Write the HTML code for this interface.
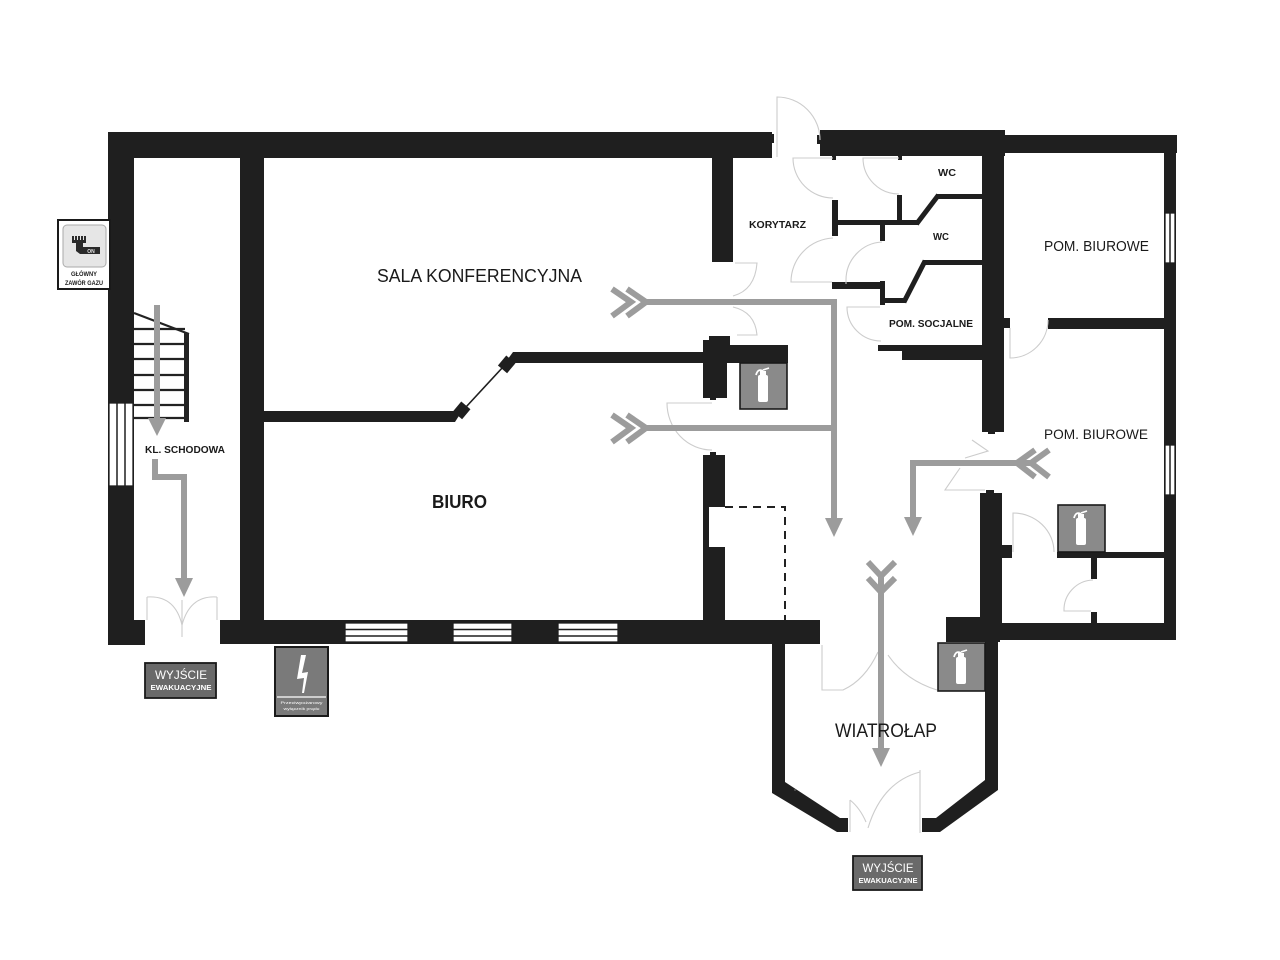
<!DOCTYPE html>
<html>
<head>
<meta charset="utf-8">
<style>
  html,body{margin:0;padding:0;background:#fff;}
  svg{display:block;}
  text{font-family:"Liberation Sans","DejaVu Sans",sans-serif;fill:#1a1a1a;}
</style>
</head>
<body>
<svg width="1280" height="960" viewBox="0 0 1280 960" xmlns="http://www.w3.org/2000/svg">
  <rect x="0" y="0" width="1280" height="960" fill="#ffffff"/>

  <!-- ============ WALLS ============ -->
  <g fill="#1f1f1f">
    <rect x="108" y="132" width="664" height="26"/>
    <rect x="769" y="134" width="5" height="9"/>
    <rect x="108" y="132" width="26" height="513"/>
    <rect x="240" y="132" width="24" height="500"/>
    <rect x="108" y="620" width="37" height="25"/>
    <rect x="220" y="620" width="600" height="24"/>
    <rect x="712" y="132" width="21" height="130"/>
    <rect x="703" y="340" width="24" height="58"/>
    <rect x="709" y="336" width="21" height="10"/>
    <rect x="727" y="345" width="61" height="18"/>
    <rect x="710" y="396" width="6" height="4"/>
    <polygon points="513,352 704,352 704,363 505,363"/>
    <polygon points="263,411 462,411 455,422 263,422"/>
    <rect x="456" y="404" width="12" height="13" transform="rotate(40 462 410)"/>
    <rect x="501" y="358" width="12" height="13" transform="rotate(40 507 364)"/>
    <rect x="703" y="455" width="22" height="52"/>
    <rect x="703" y="507" width="6" height="40"/>
    <rect x="703" y="547" width="22" height="75"/>
    <rect x="710" y="452" width="6" height="4"/>

    <rect x="820" y="130" width="185" height="26"/>
    <rect x="817" y="135" width="5" height="9"/>
    <rect x="1003" y="135" width="174" height="18"/>
    <rect x="1164" y="135" width="12" height="505"/>
    <rect x="982" y="130" width="22" height="302"/>
    <rect x="988" y="430" width="7" height="4"/>
    <rect x="980" y="493" width="22" height="130"/>
    <rect x="986" y="490" width="8" height="4"/>
    <polygon points="985,623 998,623 998,790 940,832 922,832 922,818 936,818 985,780"/>
    <rect x="946" y="617" width="54" height="25"/>
    <rect x="985" y="623" width="191" height="17"/>
    <polygon points="772,630 785,630 785,782 840,818 848,818 848,832 837,832 772,793"/>

    <rect x="832" y="200" width="6" height="36"/>
    <rect x="837" y="220" width="82" height="5"/>
    <rect x="897" y="195" width="5" height="28"/>
    <rect x="880" y="224" width="5" height="17"/>
    <rect x="936" y="194" width="47" height="5"/>
    <rect x="832" y="282" width="50" height="7"/>
    <rect x="880" y="281" width="5" height="24"/>
    <rect x="884" y="298" width="22" height="5"/>
    <rect x="923" y="260" width="60" height="5"/>
    <rect x="878" y="345" width="105" height="6"/>
    <rect x="902" y="345" width="81" height="15"/>
    <rect x="832" y="155" width="4" height="5"/>
    <rect x="898" y="155" width="4" height="5"/>

    <rect x="1048" y="318" width="117" height="11"/>
    <rect x="1003" y="318" width="7" height="10"/>
    <rect x="1057" y="552" width="107" height="6"/>
    <rect x="1002" y="545" width="10" height="13"/>
    <rect x="1091" y="557" width="6" height="22"/>
    <rect x="1091" y="612" width="6" height="11"/>
  </g>
  <g stroke="#1f1f1f" stroke-width="5" fill="none" stroke-linecap="square">
    <line x1="918" y1="222" x2="937" y2="197"/>
    <line x1="905" y1="300" x2="924" y2="263"/>
  </g>
  <line x1="466" y1="407" x2="503" y2="367" stroke="#1f1f1f" stroke-width="1.6"/>

  <!-- ============ WINDOWS ============ -->
  <g fill="#ffffff" stroke="#1f1f1f" stroke-width="1.3">
    <rect x="345" y="623" width="63" height="19"/>
    <rect x="453" y="623" width="59" height="19"/>
    <rect x="558" y="623" width="60" height="19"/>
    <rect x="109" y="403" width="24" height="83"/>
    <rect x="1165" y="213" width="10" height="50"/>
    <rect x="1165" y="445" width="10" height="50"/>
  </g>
  <g stroke="#1f1f1f" stroke-width="1.5">
    <line x1="345" y1="629.5" x2="408" y2="629.5"/>
    <line x1="345" y1="636" x2="408" y2="636"/>
    <line x1="453" y1="629.5" x2="512" y2="629.5"/>
    <line x1="453" y1="636" x2="512" y2="636"/>
    <line x1="558" y1="629.5" x2="618" y2="629.5"/>
    <line x1="558" y1="636" x2="618" y2="636"/>
    <line x1="117" y1="403" x2="117" y2="486"/>
    <line x1="125" y1="403" x2="125" y2="486"/>
    <line x1="1170" y1="213" x2="1170" y2="263"/>
    <line x1="1170" y1="445" x2="1170" y2="495"/>
  </g>

  <!-- ============ STAIRS ============ -->
  <g stroke="#222" stroke-width="2.2">
    <line x1="134" y1="313" x2="189" y2="334"/>
    <line x1="134" y1="329" x2="185" y2="329"/>
    <line x1="134" y1="344" x2="185" y2="344"/>
    <line x1="134" y1="359" x2="185" y2="359"/>
    <line x1="134" y1="375" x2="185" y2="375"/>
    <line x1="134" y1="390" x2="185" y2="390"/>
    <line x1="134" y1="405" x2="185" y2="405"/>
    <line x1="134" y1="418" x2="185" y2="418"/>
  </g>
  <rect x="184" y="333" width="5" height="89" fill="#222"/>

  <path d="M725,507 L785,507 L785,620" fill="none" stroke="#222" stroke-width="2" stroke-dasharray="8,6"/>

  <!-- ============ DOOR SWINGS (faint) ============ -->
  <g fill="none" stroke="#cccccc" stroke-width="1.1">
    <path d="M777,157 L777,97 A43,43 0 0 1 820,140"/>
    <path d="M833,158 L793,158 A40,40 0 0 0 833,198"/>
    <path d="M899,158 L863,158 A36,36 0 0 0 899,194"/>
    <path d="M833,238 A44,44 0 0 0 791,282 L832,282"/>
    <path d="M882,242 A38,38 0 0 0 846,280 L846,284"/>
    <path d="M880,307 L847,307 A34,34 0 0 0 881,341"/>
    <path d="M735,263 L757,263 Q755,290 733,296"/>
    <path d="M733,307 Q755,312 757,335 L737,335"/>
    <path d="M712,403 L667,403 A45,47 0 0 0 712,450"/>
    <path d="M1010,328 L1010,358 A38,38 0 0 0 1048,320"/>
    <path d="M1013,552 L1013,513 A41,39 0 0 1 1054,552"/>
    <path d="M1093,580 A30,30 0 0 0 1064,611 L1091,611"/>
    <path d="M972,440 L988,451 L965,458"/>
    <path d="M960,468 L945,490 L985,490"/>
    <path d="M822,645 L822,690 L843,690 Q865,680 878,652"/>
    <path d="M888,655 Q905,680 937,690"/>
    <path d="M920,770 L920,833"/>
    <path d="M920,772 Q882,782 868,828"/>
    <path d="M850,800 L850,832"/>
    <path d="M850,800 Q860,808 866,822"/>
    <path d="M147,597 L147,620"/>
    <path d="M217,597 L217,620"/>
    <path d="M147,597 Q175,595 182,625"/>
    <path d="M217,597 Q190,595 182,625"/>
    <path d="M182,600 L182,637"/>
  </g>

  <!-- ============ EVACUATION ARROWS ============ -->
  <g fill="none" stroke="#9c9c9c" stroke-width="6" stroke-linejoin="miter">
    <line x1="157" y1="305" x2="157" y2="420"/>
    <path d="M155,459 L155,477 L184,477 L184,582"/>
    <path d="M643,302 L834,302 L834,520"/>
    <polyline points="612,289 631,302 612,316"/>
    <polyline points="627,289 646,302 627,316"/>
    <line x1="643" y1="428" x2="834" y2="428"/>
    <polyline points="612,415 631,428 612,442"/>
    <polyline points="627,415 646,428 627,442"/>
    <path d="M1030,463 L913,463 L913,520"/>
    <polyline points="1035,450 1017,463 1035,477"/>
    <polyline points="1049,450 1031,463 1049,477"/>
    <line x1="881" y1="577" x2="881" y2="752"/>
    <polyline points="868,562 881,576 895,562"/>
    <polyline points="868,578 881,592 895,578"/>
  </g>
  <g fill="#9c9c9c">
    <polygon points="148,418 166,418 157,436"/>
    <polygon points="175,578 193,578 184,597"/>
    <polygon points="825,518 843,518 834,537"/>
    <polygon points="904,517 922,517 913,536"/>
    <polygon points="872,748 890,748 881,767"/>
  </g>

  <!-- ============ FIRE EXTINGUISHERS ============ -->
  <g>
    <rect x="740" y="363" width="47" height="46" fill="#8a8a8a" stroke="#1a1a1a" stroke-width="1.6"/>
    <rect x="758" y="375" width="10" height="27" rx="2" fill="#fff"/>
    <rect x="760" y="371" width="6" height="5" fill="#fff"/>
    <path d="M763,371 Q758,368 756,375" fill="none" stroke="#fff" stroke-width="1.8"/>
    <line x1="763" y1="370" x2="769" y2="368" stroke="#fff" stroke-width="1.5"/>

    <rect x="1058" y="505" width="47" height="47" fill="#8a8a8a" stroke="#1a1a1a" stroke-width="1.6"/>
    <rect x="1076" y="518" width="10" height="27" rx="2" fill="#fff"/>
    <rect x="1078" y="514" width="6" height="5" fill="#fff"/>
    <path d="M1081,514 Q1076,511 1074,518" fill="none" stroke="#fff" stroke-width="1.8"/>
    <line x1="1081" y1="513" x2="1087" y2="511" stroke="#fff" stroke-width="1.5"/>

    <rect x="938" y="643" width="47" height="48" fill="#8a8a8a" stroke="#1a1a1a" stroke-width="1.6"/>
    <rect x="956" y="657" width="10" height="27" rx="2" fill="#fff"/>
    <rect x="958" y="653" width="6" height="5" fill="#fff"/>
    <path d="M961,653 Q956,650 954,657" fill="none" stroke="#fff" stroke-width="1.8"/>
    <line x1="961" y1="652" x2="967" y2="650" stroke="#fff" stroke-width="1.5"/>
  </g>

  <!-- ============ GAS VALVE SIGN ============ -->
  <g>
    <rect x="58" y="220" width="52" height="69" fill="#fff" stroke="#1a1a1a" stroke-width="2"/>
    <rect x="63" y="225" width="43" height="42" rx="4" fill="#e6e6e6" stroke="#aaa" stroke-width="1"/>
    <g fill="#2a2a2a">
      <rect x="72" y="236" width="2" height="5"/>
      <rect x="75" y="236" width="2" height="5"/>
      <rect x="78" y="236" width="2" height="5"/>
      <rect x="81" y="236" width="2" height="5"/>
      <rect x="84" y="236" width="2" height="5"/>
      <rect x="72" y="240" width="14" height="3"/>
      <rect x="76" y="243" width="7" height="5"/>
      <polygon points="76,247 100,247 100,254 80,254 76,251"/>
    </g>
    <text x="91" y="253" font-size="5" font-weight="bold" style="fill:#e6e6e6" text-anchor="middle">ON</text>
    <text x="84" y="276" font-size="6.5" font-weight="bold" text-anchor="middle" textLength="26" lengthAdjust="spacingAndGlyphs">GŁÓWNY</text>
    <text x="84" y="285" font-size="6.5" font-weight="bold" text-anchor="middle" textLength="38" lengthAdjust="spacingAndGlyphs">ZAWÓR GAZU</text>
  </g>

  <!-- ============ EXIT SIGNS ============ -->
  <g>
    <rect x="145" y="663" width="71" height="35" fill="#6a6a6a" stroke="#1a1a1a" stroke-width="1.8"/>
    <text x="181" y="679" font-size="11.5" text-anchor="middle" style="fill:#fff" textLength="52" lengthAdjust="spacingAndGlyphs">WYJŚCIE</text>
    <text x="181" y="690" font-size="7" font-weight="bold" text-anchor="middle" style="fill:#fff" textLength="61" lengthAdjust="spacingAndGlyphs">EWAKUACYJNE</text>

    <rect x="853" y="856" width="69" height="34" fill="#6a6a6a" stroke="#1a1a1a" stroke-width="1.8"/>
    <text x="888" y="872" font-size="11.5" text-anchor="middle" style="fill:#fff" textLength="51" lengthAdjust="spacingAndGlyphs">WYJŚCIE</text>
    <text x="888" y="883" font-size="7" font-weight="bold" text-anchor="middle" style="fill:#fff" textLength="59" lengthAdjust="spacingAndGlyphs">EWAKUACYJNE</text>
  </g>

  <!-- ============ ELECTRICAL SIGN ============ -->
  <g>
    <rect x="275" y="647" width="53" height="69" fill="#7a7a7a" stroke="#1a1a1a" stroke-width="2"/>
    <line x1="277" y1="697" x2="326" y2="697" stroke="#fff" stroke-width="1.2"/>
    <polygon points="301,655 306,655 302,673 308,672 304,693 302,693 304,678 297,679" fill="#fff"/>
    <text x="301.5" y="704" font-size="4" text-anchor="middle" style="fill:#fff" textLength="42" lengthAdjust="spacingAndGlyphs">Przeciwpożarowy</text>
    <text x="301.5" y="710" font-size="4" text-anchor="middle" style="fill:#fff" textLength="36" lengthAdjust="spacingAndGlyphs">wyłącznik prądu</text>
  </g>

  <!-- ============ ROOM LABELS ============ -->
  <text x="377" y="282" font-size="18" textLength="205" lengthAdjust="spacingAndGlyphs">SALA KONFERENCYJNA</text>
  <text x="432" y="508" font-size="18" font-weight="bold" textLength="55" lengthAdjust="spacingAndGlyphs">BIURO</text>
  <text x="749" y="228" font-size="10.5" font-weight="bold" textLength="57" lengthAdjust="spacingAndGlyphs">KORYTARZ</text>
  <text x="938" y="176" font-size="10" font-weight="bold" textLength="18" lengthAdjust="spacingAndGlyphs">WC</text>
  <text x="933" y="240" font-size="10" font-weight="bold" textLength="16" lengthAdjust="spacingAndGlyphs">WC</text>
  <text x="889" y="327" font-size="10.5" font-weight="bold" textLength="84" lengthAdjust="spacingAndGlyphs">POM. SOCJALNE</text>
  <text x="1044" y="251" font-size="15" textLength="105" lengthAdjust="spacingAndGlyphs">POM. BIUROWE</text>
  <text x="1044" y="439" font-size="14" textLength="104" lengthAdjust="spacingAndGlyphs">POM. BIUROWE</text>
  <text x="145" y="453" font-size="10.5" font-weight="bold" textLength="80" lengthAdjust="spacingAndGlyphs">KL. SCHODOWA</text>
  <text x="835" y="737" font-size="19" textLength="102" lengthAdjust="spacingAndGlyphs">WIATROŁAP</text>

  <circle cx="795" cy="790" r="1" fill="#555"/>
</svg>
</body>
</html>
